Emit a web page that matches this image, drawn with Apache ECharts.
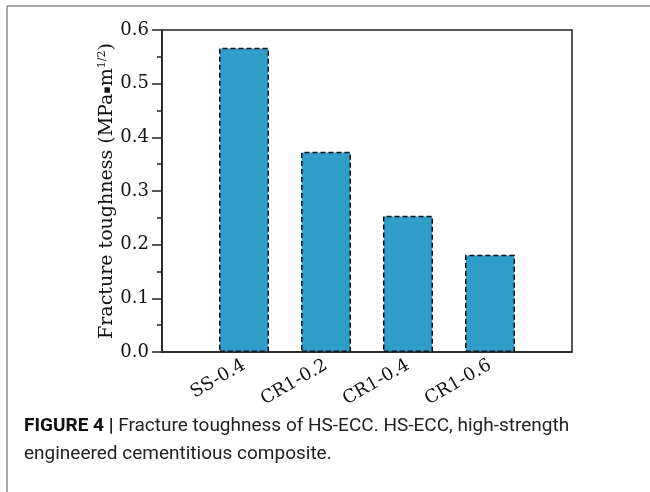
<!DOCTYPE html>
<html>
<head>
<meta charset="utf-8">
<script src="https://cdn.jsdelivr.net/npm/echarts@6/dist/echarts.min.js"></script>
<style>html,body{margin:0;padding:0;background:#fff}#c{width:650px;height:492px}</style>
</head>
<body>
<div id="c"></div>
<script>
var categories = ['', 'SS-0.4', 'CR1-0.2', 'CR1-0.4', 'CR1-0.6', ''];
var toughness = [null, 0.567, 0.373, 0.254, 0.181, null];
var yTicks = { min: 0, max: 0.6, interval: 0.1 };
var captionBold = 'FIGURE 4 |';
var captionLine1 = ' Fracture toughness of HS-ECC. HS-ECC, high-strength';
var captionLine2 = 'engineered cementitious composite.';

var chart = echarts.init(document.getElementById('c'), null, { renderer: 'canvas' });
var serif = 'DejaVu Serif';
chart.setOption({
  animation: false,
  backgroundColor: '#fff',
  grid: { left: 162, top: 30, right: 78, bottom: 140, show: true, borderColor: '#222', borderWidth: 1.5, backgroundColor: 'transparent' },
  xAxis: {
    type: 'category',
    data: categories,
    boundaryGap: false,
    axisLine: { lineStyle: { color: '#222', width: 1.5 } },
    axisTick: { show: false },
    axisLabel: { interval: 0, rotate: 30, margin: 12, fontFamily: serif, fontSize: 18, color: '#111' },
    splitLine: { show: false }
  },
  yAxis: {
    type: 'value',
    min: yTicks.min, max: yTicks.max, interval: yTicks.interval,
    name: '{a|Fracture toughness (MPa}{c|▪}{a|m}{b|1/2}{a|)}',
    nameLocation: 'middle',
    nameGap: 44,
    nameMoveOverlap: false,
    nameTextStyle: {
      rich: {
        a: { fontFamily: serif, fontSize: 19, color: '#111' },
        c: { fontFamily: serif, fontSize: 11, color: '#111' },
        b: { fontFamily: serif, fontSize: 11, color: '#111', verticalAlign: 'top', padding: [0, 0, 10, 0] }
      }
    },
    axisLine: { show: true, lineStyle: { color: '#222', width: 1.5 } },
    axisTick: { show: true, inside: false, length: 10, lineStyle: { color: '#222', width: 1.5 } },
    minorTick: { show: true, splitNumber: 2, length: 5, lineStyle: { color: '#222', width: 1.5 } },
    axisLabel: { fontFamily: serif, fontSize: 18, color: '#111', margin: 13, formatter: function (v) { return v.toFixed(1); } },
    splitLine: { show: false }
  },
  series: [{
    type: 'bar',
    data: toughness,
    barWidth: 50,
    itemStyle: { color: '#2f9cc9', borderColor: '#111', borderWidth: 1.5, borderType: [5, 3] }
  }],
  graphic: [
    { type: 'line', shape: { x1: 7, y1: 6, x2: 650, y2: 6 }, style: { stroke: '#8a8a8a', lineWidth: 1.5 } },
    { type: 'line', shape: { x1: 7, y1: 6, x2: 7, y2: 492 }, style: { stroke: '#8a8a8a', lineWidth: 1.5 } },
    { type: 'text', left: 24, top: 417, style: { text: '{b|' + captionBold + '}{r|' + captionLine1 + '}', rich: {
        b: { fontFamily: 'Roboto', fontWeight: 'bold', fontSize: 19, fill: '#111' },
        r: { fontFamily: 'Roboto', fontSize: 19, fill: '#222' } } } },
    { type: 'text', left: 24, top: 445, style: { text: captionLine2, fontFamily: 'Roboto', fontSize: 19, fill: '#222' } }
  ]
});
</script>
</body>
</html>
